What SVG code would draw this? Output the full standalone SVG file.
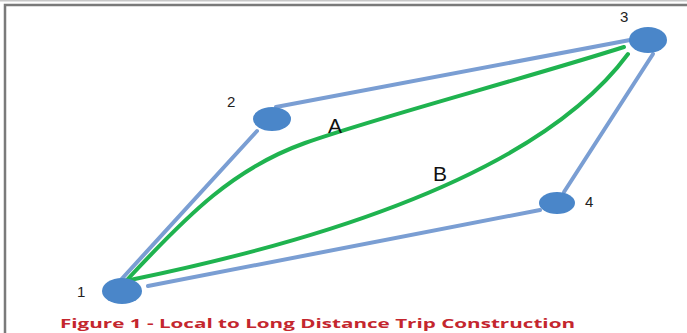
<svg xmlns="http://www.w3.org/2000/svg" width="687" height="333" viewBox="0 0 687 333">
<style>
.edge{fill:none;stroke:#7a9ed3;stroke-width:4;stroke-linecap:round}
.trip{fill:none;stroke:#1fb34f;stroke-width:4;stroke-linecap:round}
.node{fill:#4a86c9}
.num{font-family:"Liberation Sans",Arial,sans-serif;font-size:15px;fill:#222}
.lab{font-family:"Liberation Sans",Arial,sans-serif;font-size:21px;fill:#111}
.cap{font-family:"Open Sans","Liberation Sans",sans-serif;font-size:13px;font-weight:bold;fill:#c4262e}
</style>
<rect width="687" height="333" fill="#fff"/>
<line x1="0" y1="0.5" x2="687" y2="0.5" stroke="#c8c8c8" stroke-width="2"/>
<path d="M5,333 V5 H687" fill="none" stroke="#7a7a7a" stroke-width="2.5"/>
<g id="connectors">
<line class="edge" x1="118" y1="283" x2="257" y2="131"/>
<line class="edge" x1="276" y1="107" x2="630" y2="40"/>
<line class="edge" x1="653" y1="54" x2="564" y2="192"/>
<line class="edge" x1="540" y1="210" x2="148" y2="286"/>
<path class="trip" d="M126,281 C190,212 235,168 305,143 S520,80 624,47"/>
<path class="trip" d="M130,280 Q520,200 628,54"/>
</g>
<g id="node1"><ellipse class="node" cx="122" cy="291" rx="20" ry="13"/><text class="num" x="77" y="297">1</text></g>
<g id="node2"><ellipse class="node" cx="272" cy="119" rx="19" ry="12"/><text class="num" x="227" y="107">2</text></g>
<g id="node3"><ellipse class="node" cx="648" cy="40" rx="19" ry="13"/><text class="num" x="620" y="22">3</text></g>
<g id="node4"><ellipse class="node" cx="557" cy="203" rx="18" ry="11"/><text class="num" x="585" y="207">4</text></g>
<g id="labels">
<text class="lab" x="328" y="133">A</text>
<text class="lab" x="433" y="181">B</text>
</g>
<text class="cap" x="60" y="328" textLength="515" lengthAdjust="spacingAndGlyphs">Figure 1 - Local to Long Distance Trip Construction</text>
</svg>
